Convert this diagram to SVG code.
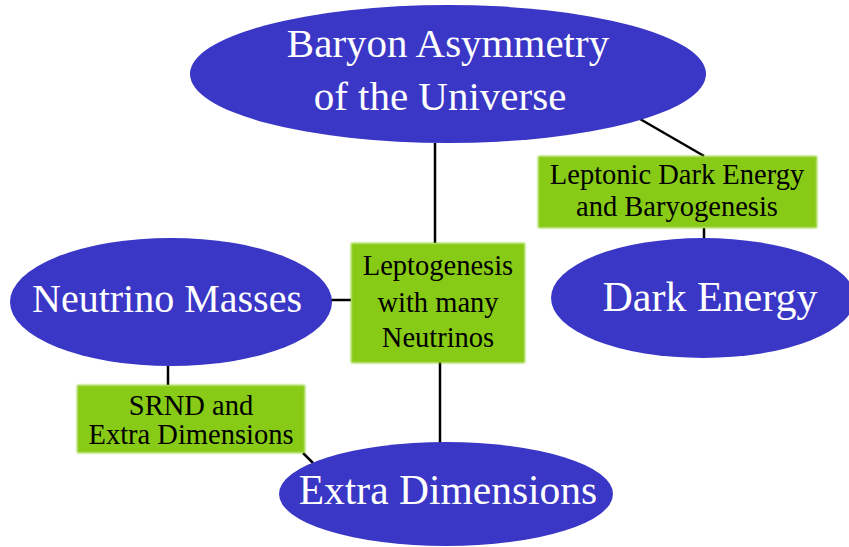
<svg xmlns="http://www.w3.org/2000/svg" width="849" height="547" viewBox="0 0 849 547">
<defs>
<filter id="soft" x="-5%" y="-5%" width="110%" height="110%"><feGaussianBlur stdDeviation="0.8"/></filter>
</defs>
<style>
.ell{fill:#3a36c6}
.box{fill:#88cb12;filter:url(#soft)}
text{font-family:'Liberation Serif','Times New Roman',serif;text-anchor:middle}
.et{fill:#fff}
.bt{fill:#000;font-size:28.5px}
.c line{stroke:#000;stroke-width:2.5}
</style>
<rect width="849" height="547" fill="#fff"/>
<g class="c" id="connectors">
<line x1="435" y1="143" x2="435" y2="243"/>
<line x1="440" y1="362" x2="440" y2="443"/>
<line x1="640" y1="119" x2="704" y2="156"/>
<line x1="704" y1="228" x2="704" y2="240"/>
<line x1="330" y1="300" x2="351" y2="300"/>
<line x1="168" y1="366" x2="168" y2="385"/>
<line x1="303" y1="453" x2="313" y2="463"/>
</g>
<g id="baryon">
<ellipse class="ell" cx="448" cy="74" rx="258" ry="69"/>
<text class="et" x="448" y="57" font-size="41">Baryon Asymmetry</text>
<text class="et" x="440" y="110" font-size="41">of the Universe</text>
</g>
<g id="neutrino">
<ellipse class="ell" cx="171" cy="302" rx="161" ry="64"/>
<text class="et" x="167" y="312" font-size="40">Neutrino Masses</text>
</g>
<g id="darkenergy">
<ellipse class="ell" cx="703" cy="298" rx="152" ry="60"/>
<text class="et" x="710" y="311" font-size="42">Dark Energy</text>
</g>
<g id="extradim">
<ellipse class="ell" cx="446" cy="494" rx="167" ry="52"/>
<text class="et" x="448" y="504" font-size="41.5">Extra Dimensions</text>
</g>
<g id="leptogenesis">
<rect class="box" x="351" y="243" width="174" height="120"/>
<text class="bt" x="438" y="275">Leptogenesis</text>
<text class="bt" x="438" y="312">with many</text>
<text class="bt" x="438" y="347">Neutrinos</text>
</g>
<g id="leptonic">
<rect class="box" x="538" y="156" width="279" height="72"/>
<text class="bt" x="677" y="184">Leptonic Dark Energy</text>
<text class="bt" x="677" y="216">and Baryogenesis</text>
</g>
<g id="srnd">
<rect class="box" x="77" y="385" width="228" height="68"/>
<text class="bt" x="191" y="415">SRND and</text>
<text class="bt" x="191" y="444">Extra Dimensions</text>
</g>
</svg>
